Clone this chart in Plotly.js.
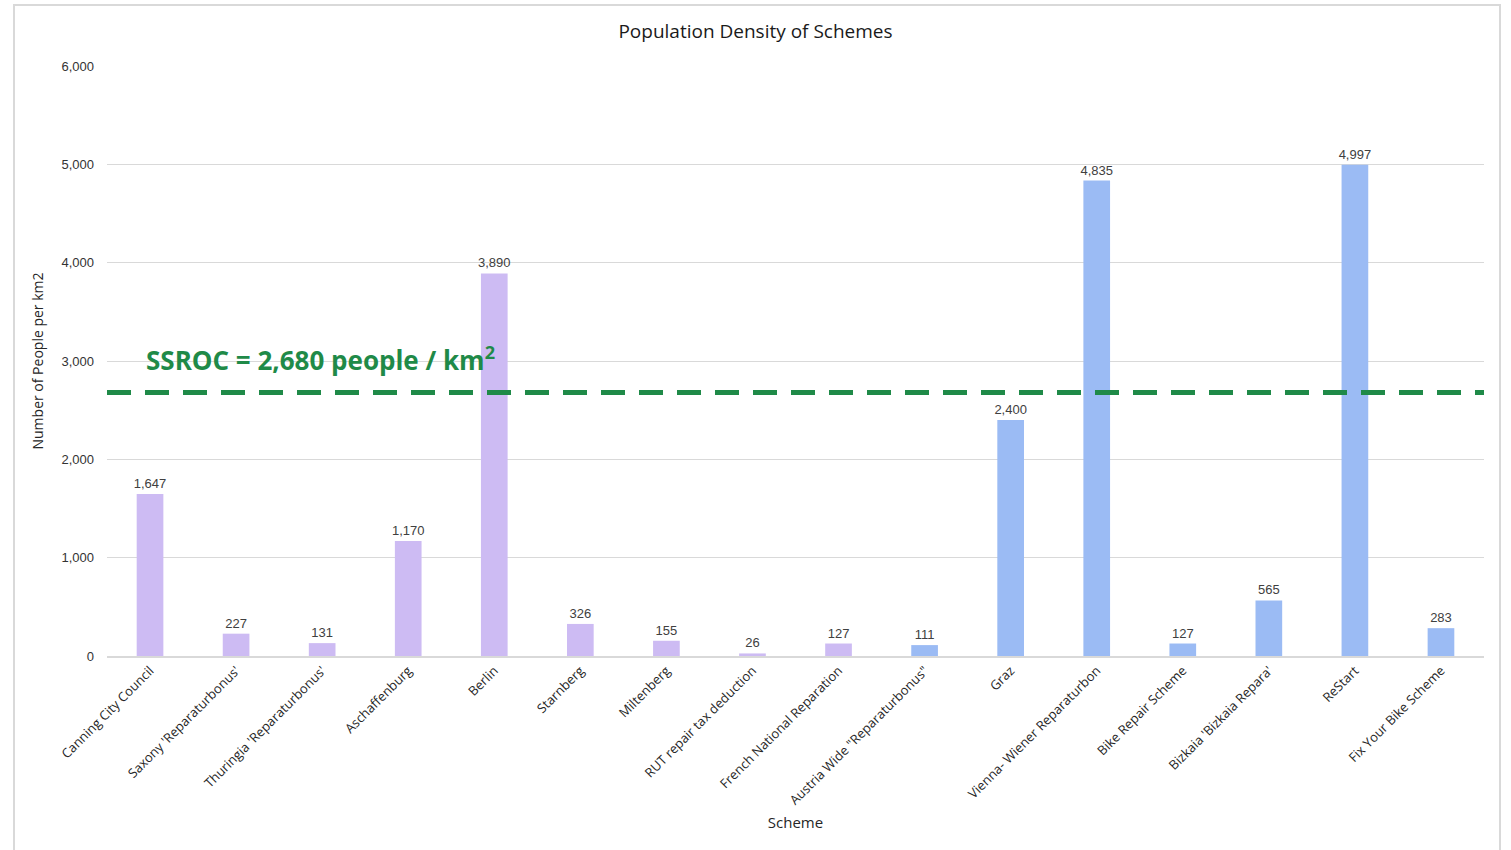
<!DOCTYPE html>
<html>
<head>
<meta charset="utf-8">
<script src="https://cdn.plot.ly/plotly-3.0.1.min.js"></script>
<style>
  html, body { margin: 0; padding: 0; background: #ffffff; }
  #chart { width: 1511px; height: 850px; }
  #frame { position: absolute; left: 13px; top: 4px; width: 1488px; height: 860px; border: 2px solid #d9d9d9; box-sizing: border-box; pointer-events: none; }
</style>
</head>
<body>
<div id="chart"></div>
<div id="frame"></div>
<script>
const schemes = [
  "Canning City Council",
  "Saxony 'Reparaturbonus'",
  "Thuringia 'Reparaturbonus'",
  "Aschaffenburg",
  "Berlin",
  "Starnberg",
  "Miltenberg",
  "RUT repair tax deduction",
  "French National Reparation",
  "Austria Wide \"Reparaturbonus\"",
  "Graz",
  "Vienna- Wiener Reparaturbon",
  "Bike Repair Scheme",
  "Bizkaia 'Bizkaia Repara'",
  "ReStart",
  "Fix Your Bike Scheme"
];
const density = [1647, 227, 131, 1170, 3890, 326, 155, 26, 127, 111, 2400, 4835, 127, 565, 4997, 283];
const group = ["a","a","a","a","a","a","a","a","a","b","b","b","b","b","b","b"];
const ssrocValue = 2680;
const ssrocLabel = "SSROC = 2,680 people / km<sup>2</sup>";

const lilac = "#CDBBF3";
const blue = "#9BBBF4";
const colors = group.map(g => g === "a" ? lilac : blue);

const trace = {
  type: "bar",
  x: schemes,
  y: density,
  marker: { color: colors, line: { width: 0 } },
  width: 0.31,
  text: density.map(v => v.toLocaleString("en-US")),
  textposition: "outside",
  constraintext: "none",
  cliponaxis: false,
  textfont: { family: "Liberation Sans, Arial, sans-serif", size: 13, color: "#404040" },
  hoverinfo: "x+y"
};

const layout = {
  width: 1511,
  height: 850,
  margin: { l: 107, r: 27, t: 66, b: 194 },
  paper_bgcolor: "rgba(0,0,0,0)",
  plot_bgcolor: "rgba(0,0,0,0)",
  showlegend: false,
  bargap: 0.69,
  title: {
    text: "Population Density of Schemes",
    font: { family: "Open Sans, sans-serif", size: 19, color: "#1a1a1a" },
    x: 0.5, xanchor: "center", y: 0.963, yanchor: "middle"
  },
  xaxis: {
    type: "category",
    tickangle: -45,
    tickfont: { family: "Open Sans, sans-serif", size: 13, color: "#262626" },
    showline: true,
    linecolor: "#d9d9d9",
    linewidth: 2,
    ticks: "",
    showgrid: false,
    title: { text: "Scheme", font: { family: "Open Sans, sans-serif", size: 15, color: "#262626" }, standoff: 10 },
    automargin: false
  },
  yaxis: {
    range: [0, 6000],
    dtick: 1000,
    tickformat: ",d",
    tickfont: { family: "Liberation Sans, Arial, sans-serif", size: 13, color: "#333333" },
    gridcolor: "#d9d9d9",
    gridwidth: 1,
    zeroline: false,
    showline: false,
    ticklabelstandoff: 12,
    title: { text: "Number of People per km2", font: { family: "Open Sans, sans-serif", size: 14, color: "#262626" }, standoff: 14 },
    automargin: false
  },
  shapes: [
    {
      type: "line",
      xref: "paper", yref: "y",
      x0: 0, x1: 1,
      y0: ssrocValue, y1: ssrocValue,
      line: { color: "#1F8A48", width: 5, dash: "24px,14px" },
      layer: "above"
    }
  ],
  annotations: [
    {
      xref: "paper", yref: "y",
      x: 0.027, y: ssrocValue,
      xanchor: "left", yanchor: "bottom",
      yshift: 12,
      text: "<b>" + ssrocLabel + "</b>",
      showarrow: false,
      font: { family: "Open Sans, sans-serif", size: 26, color: "#1F8A48" }
    }
  ]
};

Plotly.newPlot("chart", [trace], layout, { displayModeBar: false, staticPlot: true });
</script>
</body>
</html>
